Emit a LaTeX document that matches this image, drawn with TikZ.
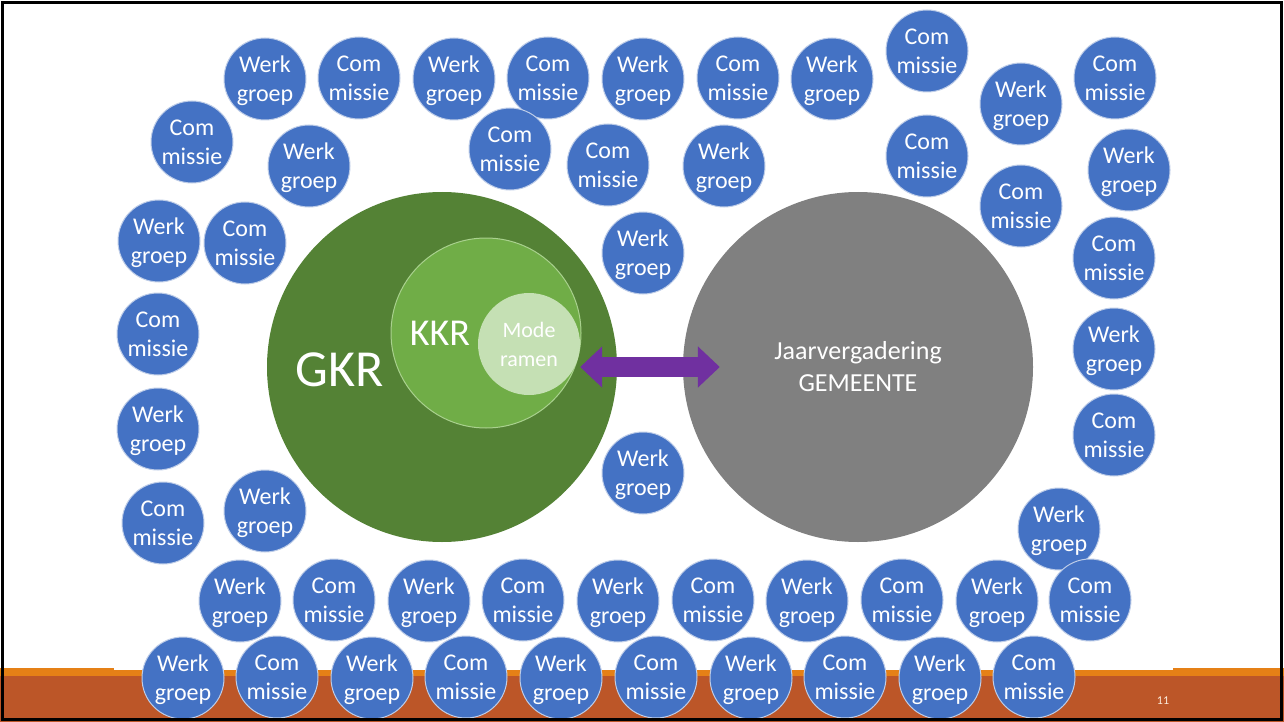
\documentclass[tikz,border=0pt]{standalone}
\usepackage{fontspec}
\setmainfont{Carlito}
\usepackage{tikz}
\usetikzlibrary{arrows.meta}
\definecolor{cblue}{RGB}{68,114,196}
\definecolor{cedge}{RGB}{190,205,232}
\definecolor{gkrgreen}{RGB}{84,130,53}
\definecolor{kkrgreen}{RGB}{112,173,71}
\definecolor{kkredge}{RGB}{169,209,142}
\definecolor{modgreen}{RGB}{197,224,180}
\definecolor{jvgray}{RGB}{128,128,128}
\definecolor{arrowpurple}{RGB}{112,48,160}
\definecolor{bandrust}{RGB}{188,86,40}
\definecolor{bandorange}{RGB}{229,128,22}
\tikzset{
    groep/.style={circle, draw=cedge, line width=1pt, fill=cblue,
      minimum size=82pt, inner sep=0pt, text=white, align=center,
      text depth=0pt, font=\fontsize{24}{29}\selectfont},
    kring/.style={circle, inner sep=0pt, text=white, align=center},
}

\begin{document}
\begin{tikzpicture}[x=1pt,y=-1pt]
\useasboundingbox (0,0) rectangle (1284,722);
\fill[white] (0,0) rectangle (1284,722);

% band onderaan
\fill[bandrust] (0,676) rectangle (1284,722);
\fill[bandorange] (0,668) rectangle (114,676);
\fill[bandorange] (114,670) rectangle (1173,676);
\fill[bandorange] (1173,668) rectangle (1284,676);
\node[text=white!85!bandorange, font=\fontsize{12}{14}\selectfont] (pg) at (1163,701) {11};

% kerkenraad en gemeente
\node[kring, fill=gkrgreen, minimum size=350pt] (gkr) at (442,367) {};
\node[text=white, font=\fontsize{52}{60}\selectfont] (gkrlabel) at (340,370) {GKR};
\node[kring, fill=kkrgreen, draw=kkredge, line width=1pt, minimum size=190pt] (kkr) at (486,333) {};
\node[text=white, font=\fontsize{38}{44}\selectfont] (kkrlabel) at (440,333) {KKR};
\node[kring, fill=modgreen, minimum size=102pt,
    font=\fontsize{22}{29}\selectfont] (mod) at (529,344) {Mode\\ramen};
\node[kring, fill=jvgray, minimum size=350pt,
    font=\fontsize{26}{32}\selectfont] (jv) at (858,367) {Jaarvergadering\\GEMEENTE};

\draw[{Triangle[length=22pt,width=40pt]}-{Triangle[length=22pt,width=40pt]},
    color=arrowpurple, line width=20pt, shorten >=-37pt] (mod.east |- jv) -- (jv.west);

% werkgroepen en commissies
\node[groep] (w1) at (265,79) {Werk\\groep};
\node[groep] (c1) at (359,78) {Com\\missie};
\node[groep] (w2) at (454,79) {Werk\\groep};
\node[groep] (c2) at (548,78) {Com\\missie};
\node[groep] (w3) at (643,79) {Werk\\groep};
\node[groep] (c3) at (738,78) {Com\\missie};
\node[groep] (w4) at (832,79) {Werk\\groep};
\node[groep] (c4) at (927,51) {Com\\missie};
\node[groep] (w5) at (1021,104) {Werk\\groep};
\node[groep] (c5) at (1115,78) {Com\\missie};

\node[groep] (c6) at (192,142) {Com\\missie};
\node[groep] (w6) at (309,166) {Werk\\groep};
\node[groep] (c7) at (510,149) {Com\\missie};
\node[groep] (c8) at (608,165) {Com\\missie};
\node[groep] (w7) at (724,166) {Werk\\groep};
\node[groep] (c9) at (927,156) {Com\\missie};
\node[groep] (w8) at (1129,170) {Werk\\groep};
\node[groep] (c10) at (1021,206) {Com\\missie};

\node[groep] (w9) at (159,241) {Werk\\groep};
\node[groep] (c11) at (245,243) {Com\\missie};
\node[groep] (w10) at (643,253) {Werk\\groep};
\node[groep] (c12) at (1114,258) {Com\\missie};
\node[groep] (c13) at (158,334) {Com\\missie};
\node[groep] (w11) at (1114,349) {Werk\\groep};
\node[groep] (w12) at (158,429) {Werk\\groep};
\node[groep] (c14) at (1114,435) {Com\\missie};
\node[groep] (w13) at (643,473) {Werk\\groep};
\node[groep] (c15) at (163,523) {Com\\missie};
\node[groep] (w14) at (265,511) {Werk\\groep};
\node[groep] (w15) at (1059,529) {Werk\\groep};

\node[groep] (w16) at (240,601) {Werk\\groep};
\node[groep] (c16) at (334,600) {Com\\missie};
\node[groep] (w17) at (429,601) {Werk\\groep};
\node[groep] (c17) at (523,600) {Com\\missie};
\node[groep] (w18) at (618,601) {Werk\\groep};
\node[groep] (c18) at (713,600) {Com\\missie};
\node[groep] (w19) at (807,601) {Werk\\groep};
\node[groep] (c19) at (902,600) {Com\\missie};
\node[groep] (w20) at (997,601) {Werk\\groep};
\node[groep] (c20) at (1090,600) {Com\\missie};

\node[groep] (w21) at (183,678) {Werk\\groep};
\node[groep] (c21) at (277,677) {Com\\missie};
\node[groep] (w22) at (372,678) {Werk\\groep};
\node[groep] (c22) at (466,677) {Com\\missie};
\node[groep] (w23) at (561,678) {Werk\\groep};
\node[groep] (c23) at (656,677) {Com\\missie};
\node[groep] (w24) at (751,678) {Werk\\groep};
\node[groep] (c24) at (845,677) {Com\\missie};
\node[groep] (w25) at (940,678) {Werk\\groep};
\node[groep] (c25) at (1034,677) {Com\\missie};

% kader
\draw[line width=3pt] (2.5,2.5) rectangle (1281.5,719.5);
\end{tikzpicture}
\end{document}
